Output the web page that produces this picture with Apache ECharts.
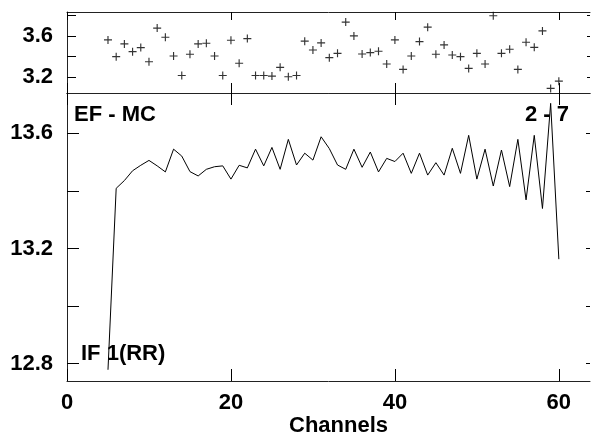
<!DOCTYPE html>
<html>
<head>
<meta charset="utf-8">
<script src="https://cdn.jsdelivr.net/npm/echarts@6/dist/echarts.min.js"></script>
<style>
html,body{margin:0;padding:0;background:#fff;}
#c{width:591px;height:434px;}
</style>
</head>
<body>
<div id="c"></div>
<script>
// Data
const channels = [5,6,7,8,9,10,11,12,13,14,15,16,17,18,19,20,21,22,23,24,25,26,27,28,29,30,31,32,33,34,35,36,37,38,39,40,41,42,43,44,45,46,47,48,49,50,51,52,53,54,55,56,57,58,59,60];
const efValues = [3.561,3.400,3.523,3.448,3.487,3.351,3.675,3.587,3.406,3.219,3.423,3.523,3.529,3.406,3.219,3.558,3.336,3.574,3.219,3.219,3.213,3.297,3.206,3.219,3.549,3.464,3.532,3.390,3.432,3.733,3.600,3.426,3.439,3.452,3.329,3.561,3.277,3.406,3.545,3.684,3.423,3.513,3.416,3.400,3.287,3.432,3.329,3.794,3.432,3.471,3.277,3.539,3.490,3.648,3.094,3.164];
const ifValues = [12.779,13.409,13.436,13.470,13.489,13.506,13.487,13.466,13.545,13.521,13.467,13.452,13.475,13.484,13.487,13.441,13.489,13.480,13.545,13.487,13.551,13.475,13.579,13.490,13.531,13.507,13.588,13.547,13.490,13.475,13.545,13.482,13.535,13.466,13.513,13.502,13.531,13.461,13.531,13.455,13.498,13.455,13.548,13.461,13.593,13.441,13.545,13.417,13.542,13.415,13.579,13.369,13.593,13.339,13.704,13.163];
const xTicks = [0,20,40,60];
const topYTicks = [3.2,3.4,3.6,3.8];
const topYLabels = [3.2,3.6];
const botYTicks = [12.8,13.0,13.2,13.4,13.6];
const botYLabels = [12.8,13.2,13.6];
const xName = 'Channels';
const annTopLeft = 'EF - MC';
const annTopRight = '2 - 7';
const annBottomLeft = 'IF 1(RR)';

const FONT = '"Liberation Sans", Arial, Helvetica, sans-serif';
const LINE = '#222';
const XMAX = 63.8;

function xAx(grid, pos, showLabel, tickLen) {
  return {
    type: 'value', gridIndex: grid, position: pos, min: 0, max: XMAX,
    axisLine: {show: true, onZero: false, lineStyle: {color: LINE, width: 1}},
    axisTick: {show: true, inside: true, length: tickLen, customValues: xTicks, lineStyle: {color: '#000'}},
    axisLabel: {show: showLabel, customValues: xTicks, margin: 11, color: '#000', fontSize: 22, fontWeight: 'bold', fontFamily: FONT},
    splitLine: {show: false}
  };
}
function yAx(grid, pos, min, max, ticks, labels, showLabel, tickLen, showLine) {
  return {
    type: 'value', gridIndex: grid, position: pos, min: min, max: max,
    axisLine: {show: showLine, onZero: false, lineStyle: {color: LINE, width: 1}},
    axisTick: {show: true, inside: true, length: tickLen, customValues: ticks, lineStyle: {color: '#000'}},
    axisLabel: {show: showLabel, customValues: labels, margin: 14, color: '#000', fontSize: 22, fontWeight: 'bold', fontFamily: FONT,
      formatter: v => Number(v).toFixed(1)},
    splitLine: {show: false}
  };
}

const chart = echarts.init(document.getElementById('c'), null, {renderer: 'canvas'});
chart.setOption({
  animation: false,
  backgroundColor: '#fff',
  grid: [
    {left: 67, top: 12, right: 1, height: 81},
    {left: 67, top: 93, right: 1, height: 288}
  ],
  xAxis: [
    xAx(0, 'bottom', false, 10),
    xAx(0, 'top', false, 8),
    xAx(1, 'bottom', true, 12),
    xAx(1, 'top', false, 12)
  ],
  yAxis: [
    yAx(0, 'left', 3.05, 3.83, topYTicks, topYLabels, true, 9, true),
    yAx(0, 'right', 3.05, 3.83, topYTicks, topYLabels, false, 3, false),
    yAx(1, 'left', 12.74, 13.74, botYTicks, botYLabels, true, 12, true),
    yAx(1, 'right', 12.74, 13.74, botYTicks, botYLabels, false, 4, false)
  ],
  series: [
    {
      type: 'scatter', xAxisIndex: 0, yAxisIndex: 0,
      data: channels.map((c, i) => [c, efValues[i]]),
      symbol: 'path://M0,3H3V0H4V3H7V4H4V7H3V4H0Z',
      symbolSize: 8,
      itemStyle: {color: '#000'},
      silent: true
    },
    {
      type: 'line', xAxisIndex: 2, yAxisIndex: 2,
      data: channels.map((c, i) => [c, ifValues[i]]),
      showSymbol: false, symbol: 'none',
      lineStyle: {color: '#000', width: 1},
      clip: false,
      silent: true
    }
  ],
  graphic: [
    {type: 'text', left: 74, top: 104, z: 100, style: {text: annTopLeft, fill: '#000', font: 'bold 22px ' + FONT}},
    {type: 'text', left: 525, top: 104, z: 100, style: {text: annTopRight, fill: '#000', font: 'bold 22px ' + FONT}},
    {type: 'text', left: 81, top: 343, z: 100, style: {text: annBottomLeft, fill: '#000', font: 'bold 22px ' + FONT}},
    {type: 'text', left: 289, top: 415, z: 100, style: {text: xName, fill: '#000', font: 'bold 22px ' + FONT}}
  ]
});
</script>
</body>
</html>
